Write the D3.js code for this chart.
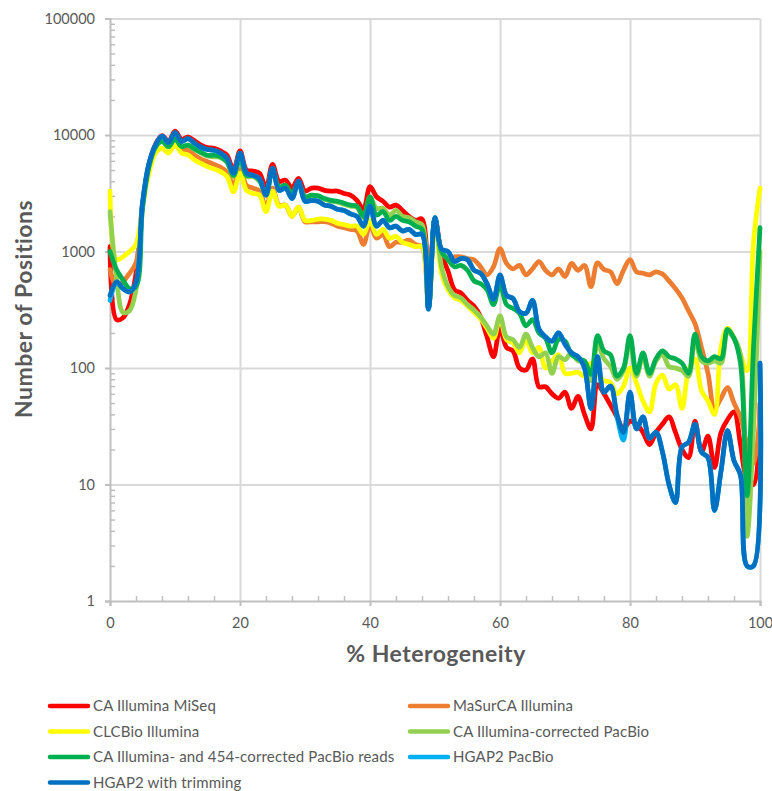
<!DOCTYPE html>
<html><head><meta charset="utf-8">
<script src="https://cdn.jsdelivr.net/npm/d3@7"></script>
<style>
body{margin:0;background:#fff}
svg{display:block}
text{font-family:Lato,"Open Sans",sans-serif;fill:#595959}
</style>
</head><body>
<svg id="chart" width="772" height="791"></svg>
<script>
// ---------- data ----------
const heterogeneity = d3.range(0, 101); // % heterogeneity categories 0..100

const caIlluminaMiSeq = [
 1100,260,270,350,650,2500,5600,8300,9900,8800,
 10800,9200,9600,8900,8200,7800,7700,7300,6700,5000,
 7300,5000,4900,4700,3500,5600,4000,4100,3500,4250,
 3300,3500,3500,3350,3300,3300,3150,3050,2750,2300,
 3600,2950,2700,2400,2500,2250,2000,1850,1900,340,
 1900,950,680,470,440,380,340,275,185,125,
 220,150,140,100,96,120,69,69,60,55,
 62,45,57,40,30,72,60,48,38,30,
 35,33,28,22,28,33,38,28,20,17,
 35,19,26,14,28,36,42,22,11,10,50];

const maSurCAIllumina = [
 700,500,550,650,800,2500,5300,7800,9300,8000,
 9500,7600,7400,6700,6200,5900,5600,5300,4800,3700,
 5100,3700,3500,3300,2400,3500,2500,2500,2000,2400,
 1800,1800,1800,1800,1750,1650,1600,1550,1500,1150,
 1700,1300,1400,1100,1200,1200,1250,1150,1100,330,
 1900,1000,870,900,900,870,850,740,630,740,
 1060,790,710,760,630,710,820,690,630,710,
 610,790,690,760,500,800,700,670,530,690,
 850,670,650,630,670,640,560,480,400,310,
 240,150,90,45,55,68,50,38,22,15,40];

const clcBioIllumina = [
 3300,850,900,1000,1150,2400,4700,7000,7700,7000,
 8200,7000,6750,6100,5700,5350,5100,4850,4400,3250,
 4700,3350,3150,3050,2200,3300,2450,2500,2000,2400,
 1850,1850,1900,1900,1850,1750,1700,1650,1650,1400,
 1850,1400,1550,1300,1350,1200,1150,1100,1100,330,
 1900,650,470,400,380,340,300,265,220,180,
 265,175,165,135,175,135,150,100,115,130,
 90,90,92,85,110,90,78,75,60,70,
 100,74,52,42,74,87,66,72,45,95,
 120,64,52,40,150,220,180,130,95,1200,3500];

const caIlluminaCorrectedPacBio = [
 2200,600,300,310,470,2300,5300,7800,8800,7900,
 9200,8000,8100,7500,7000,6600,6500,6400,5800,4400,
 6200,4400,4400,4000,3100,5000,3500,3600,3100,3800,
 2900,3000,3000,2800,2700,2650,2550,2450,2400,1950,
 2950,2350,2350,2050,2250,2000,1950,1800,1700,330,
 1900,740,500,420,400,350,315,275,230,195,
 280,185,175,150,195,150,125,135,90,125,
 118,135,115,115,78,160,120,103,80,95,
 170,85,125,85,115,130,103,100,95,85,
 180,115,110,115,110,200,180,130,3.6,30,1000];

const caIllumina454CorrectedPacBio = [
 1000,700,570,480,500,2400,5400,7900,8800,7950,
 9300,7950,8200,7600,7100,6700,6700,6500,5900,4500,
 6300,4500,4500,4100,3150,5100,3600,3700,3150,3900,
 2950,3050,3000,2850,2750,2700,2600,2500,2450,2000,
 2950,2050,2200,1850,2000,1850,1800,1650,1550,330,
 1900,1000,850,740,760,690,560,530,470,350,
 530,350,325,295,230,260,200,180,135,175,
 170,130,120,115,88,190,140,130,85,100,
 190,90,135,90,120,140,125,120,110,90,
 195,125,115,125,120,215,180,110,8,150,1600];

const hgap2PacBio = [
 380,540,480,450,540,2600,5700,8200,9800,8600,
 10500,8800,9300,8500,7850,7500,7400,7000,6300,4700,
 7000,4700,4500,4200,3050,5200,3350,3500,2850,4000,
 2700,2750,2700,2500,2450,2300,2250,2100,2000,1650,
 2450,1650,1850,1600,1650,1500,1550,1400,1400,320,
 1950,1050,1000,820,870,850,690,650,530,390,
 620,420,395,305,295,380,215,185,170,200,
 160,135,125,100,45,125,62,70,38,24,
 62,30,38,25,28,19,10,7,21,23,
 33,19,17,6,13,29,16,12,2,2,110];

const hgap2WithTrimming = [
 420,550,480,450,540,2600,5700,8200,9800,8600,
 10500,8800,9300,8500,7850,7500,7400,7000,6300,4700,
 7000,4700,4500,4200,3050,5200,3350,3500,2850,4000,
 2700,2750,2700,2500,2450,2300,2250,2100,2000,1650,
 2450,1650,1850,1600,1650,1500,1550,1400,1400,320,
 1950,1050,1000,820,870,850,690,650,530,390,
 630,420,395,305,295,380,215,185,170,200,
 160,135,125,100,45,125,62,70,40,28,
 62,30,38,25,28,19,10,7,21,23,
 33,19,17,6,13,29,16,12,2,2,110];

const seriesNames = [
 "CA Illumina MiSeq","MaSurCA Illumina","CLCBio Illumina",
 "CA Illumina-corrected PacBio","CA Illumina- and 454-corrected PacBio reads",
 "HGAP2 PacBio","HGAP2 with trimming"];
const seriesValues = [caIlluminaMiSeq, maSurCAIllumina, clcBioIllumina,
 caIlluminaCorrectedPacBio, caIllumina454CorrectedPacBio, hgap2PacBio, hgap2WithTrimming];
const seriesColors = ["#FF0000","#ED7D31","#FFFF00","#92D050","#00B050","#00B0F0","#0070C0"];

const yTickValues = [1,10,100,1000,10000,100000];
const xTickValues = [0,20,40,60,80,100];
const xTitle = "% Heterogeneity";
const yTitle = "Number of Positions";

// ---------- layout ----------
const L = 110, R = 760, T = 18.5, B = 601;
const svg = d3.select("#chart");
const x = d3.scaleLinear().domain([0,100]).range([L,R]);
const y = d3.scaleLog().domain([1,100000]).range([B,T]);

const gridCol = "#d9d9d9", axisCol = "#bfbfbf";

// gridlines
const gy = svg.append("g").attr("transform",`translate(${L},0)`)
  .call(d3.axisLeft(y).tickValues(yTickValues.slice(1)).tickSize(-(R-L)).tickFormat(""));
gy.select(".domain").remove();
gy.selectAll("line").attr("stroke",gridCol).attr("stroke-width",2);

const gx = svg.append("g").attr("transform",`translate(0,${B})`)
  .call(d3.axisBottom(x).tickValues(xTickValues.slice(1)).tickSize(-(B-T)).tickFormat(""));
gx.select(".domain").remove();
gx.selectAll("line").attr("stroke",gridCol).attr("stroke-width",2);

// minor ticks
const minorY = [];
for (let e = 0; e < 5; e++) for (let m = 2; m <= 9; m++) minorY.push(m * Math.pow(10,e));
const my = svg.append("g").attr("transform",`translate(${L},0)`)
  .call(d3.axisRight(y).tickValues(minorY).tickSize(5).tickFormat(""));
my.select(".domain").remove();
my.selectAll("line").attr("stroke",axisCol).attr("stroke-width",1.5);

const minorX = d3.range(4,100,4).filter(v => v % 20 !== 0);
const mx = svg.append("g").attr("transform",`translate(0,${B})`)
  .call(d3.axisTop(x).tickValues(minorX).tickSize(5).tickFormat(""));
mx.select(".domain").remove();
mx.selectAll("line").attr("stroke",axisCol).attr("stroke-width",1.5);

// main axes
const ay = svg.append("g").attr("transform",`translate(${L},0)`)
  .call(d3.axisLeft(y).tickValues(yTickValues).tickSize(5).tickPadding(10).tickFormat(d3.format("d")));
ay.select(".domain").attr("stroke",axisCol).attr("stroke-width",2);
ay.selectAll("line").attr("stroke",axisCol).attr("stroke-width",2);
ay.selectAll("text").style("font-size","14.5px").style("fill","#595959").style("font-family","Lato");

const ax = svg.append("g").attr("transform",`translate(0,${B})`)
  .call(d3.axisBottom(x).tickValues(xTickValues).tickSize(5).tickPadding(12).tickFormat(d3.format("d")));
ax.select(".domain").attr("stroke",axisCol).attr("stroke-width",2);
ax.selectAll("line").attr("stroke",axisCol).attr("stroke-width",2);
ax.selectAll("text").style("font-size","14.5px").style("fill","#595959").style("font-family","Lato");

// titles
svg.append("text").attr("x",436).attr("y",662).attr("text-anchor","middle")
  .style("font-size","23px").style("font-weight","bold").style("letter-spacing","0.5px").text(xTitle);
svg.append("text").attr("transform","translate(32,309) rotate(-90)").attr("text-anchor","middle")
  .style("font-size","23px").style("font-weight","bold").style("letter-spacing","0.5px").text(yTitle);

// lines
const line = d3.line().x((d,i) => x(heterogeneity[i])).y(d => y(d)).curve(d3.curveCatmullRom.alpha(0.5));
seriesValues.forEach((vals, k) => {
  svg.append("path").datum(vals).attr("d", line)
    .attr("fill","none").attr("stroke",seriesColors[k]).attr("stroke-width",4.75)
    .attr("stroke-linejoin","round").attr("stroke-linecap","round");
});

// legend
const legPos = [[50,706],[410,706],[50,731.5],[410,731.5],[50,757],[410,757],[50,782.5]];
seriesNames.forEach((n,k) => {
  const [lx,ly] = legPos[k];
  svg.append("line").attr("x1",lx).attr("x2",lx+38).attr("y1",ly).attr("y2",ly)
    .attr("stroke",seriesColors[k]).attr("stroke-width",4.5).attr("stroke-linecap","round");
  svg.append("text").attr("x",lx+43).attr("y",ly+5).style("font-size","15px")
    .style("letter-spacing","0.15px").text(n);
});
</script>
</body></html>
